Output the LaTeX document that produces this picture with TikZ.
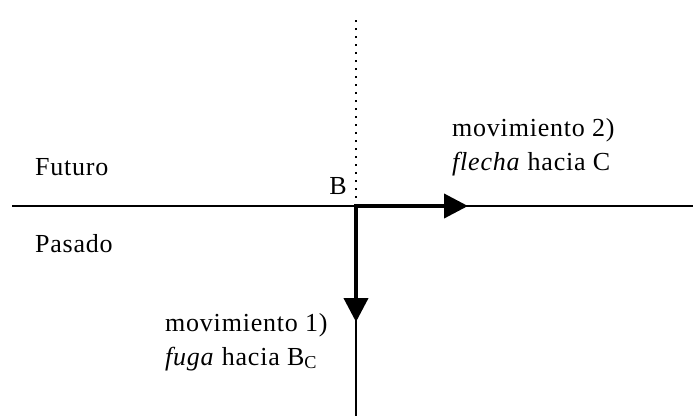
\documentclass[tikz,border=0pt]{standalone}
\usepackage{fontspec}
\setmainfont{Liberation Serif}[LetterSpace=3]
\usepackage{tikz}
\usetikzlibrary{arrows.meta, positioning, calc}

\begin{document}
\begin{tikzpicture}[x=1pt, y=-1pt, >={Triangle[length=24pt, width=24pt]},
      txt/.style={inner sep=0pt, font=\fontsize{26}{34}\selectfont, align=left},
      axis/.style={line width=1.5pt},
      movearrow/.style={->, line width=4pt, line cap=rect}]
    \useasboundingbox (0,0) rectangle (693,416);

    \coordinate (B) at (356,206);
    \coordinate (left) at (12,206);
    \coordinate (right) at (693,206);
    \coordinate (top) at (356,15);
    \coordinate (bottom) at (356,416);
    \coordinate (C) at (468,206);
    \coordinate (Bc) at (356,322);

    % time axis
    \draw[axis] (left) -- (right);
    \draw[axis] (B) -- (bottom);
    \draw[line width=2pt, dash pattern=on 2pt off 6pt] (B) -- (top);

    % the two movements
    \draw[movearrow] (B) -- (C);
    \draw[movearrow] (B) -- (Bc);

    \node[txt, anchor=base west] (fut) at (35,175) {Futuro};
    \node[txt, anchor=base west] (pas) at (35,252) {Pasado};
    \node[txt, anchor=base east] (lblB) at (347,194) {B};

    \node[txt, anchor=base west] (mov2) at (452,170) {movimiento 2)\\\textit{flecha} hacia C};
    \node[txt, anchor=base west] (mov1) at (165,365) {movimiento 1)\\\textit{fuga} hacia B\textsubscript{C}};
\end{tikzpicture}
\end{document}
